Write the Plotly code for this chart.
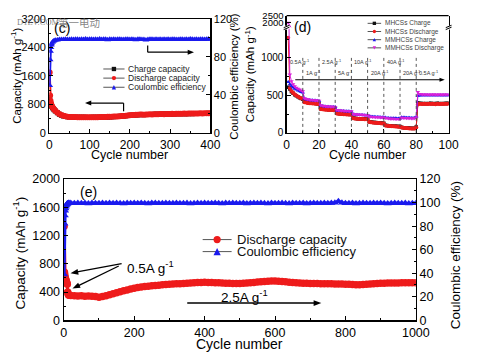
import math
import plotly.graph_objects as go

W, H = 480, 360
FONT = "Arial, 'Liberation Sans', Helvetica, sans-serif"
RED = "#ee1b1b"
BLUE = "#1a1aee"
MAG = "#d822d8"
BLK = "#111111"

# ---------------- panel (c) data ----------------
c_cycle_early = [1, 2, 3, 4, 5, 6, 8, 10, 12, 15, 20, 25, 30, 35, 40, 45]
c_cycle_late = list(range(50, 401, 5))
c_discharge_early = [1700, 1050, 900, 830, 790, 760, 720, 690, 660, 620, 570, 530, 500, 480, 465, 455]
c_discharge_late = [450, 448, 446, 444, 442, 441, 440, 442, 440, 438,
                    437, 440, 442, 440, 443, 445, 444, 447, 450, 452,
                    451, 455, 458, 460, 464, 468, 472, 478, 484, 490,
                    496, 500, 505, 508, 510, 514, 516, 512, 518, 520,
                    522, 519, 524, 526, 523, 528, 530, 527, 531, 534,
                    532, 536, 534, 538, 540, 537, 541, 543, 540, 544,
                    546, 543, 547, 545, 548, 550, 547, 551, 549, 552,
                    550]
c_charge_early = [1000, 880, 820, 790, 765, 740, 705, 680, 650, 615, 565, 527, 498, 478, 463, 453]
c_charge_late = [447, 446, 443, 442, 440, 439, 437, 440, 438, 436,
                 435, 437, 440, 438, 441, 442, 442, 445, 447, 450,
                 449, 452, 456, 458, 461, 465, 470, 475, 481, 487,
                 493, 498, 502, 506, 508, 511, 514, 510, 515, 518,
                 519, 517, 521, 524, 521, 525, 528, 525, 529, 531,
                 530, 533, 532, 535, 537, 535, 538, 541, 538, 541,
                 543, 541, 544, 543, 545, 548, 545, 548, 547, 549,
                 548]
c_ce_early = [50, 77, 86, 90, 92.5, 94, 95.5, 96.5, 97, 97.5, 98, 98.3, 98.5, 98.4, 98.6, 98.5]
c_ce_late = [98.5, 98.7, 98.4, 98.8, 98.6, 98.3, 98.7, 98.5, 98.9, 98.4,
             98.6, 98.8, 98.3, 98.6, 98.5, 98.9, 98.4, 98.7, 98.6, 98.2,
             98.7, 98.5, 98.8, 98.4, 98.6, 98.7, 98.3, 98.5, 98.8, 98.6,
             98.4, 98.7, 98.5, 98.2, 98.6, 98.8, 98.5, 98.3, 98.0, 98.4,
             98.6, 98.7, 98.4, 98.8, 98.5, 98.6, 98.3, 98.7, 98.5, 98.8,
             98.4, 98.6, 98.7, 98.5, 98.3, 98.8, 98.6, 98.4, 98.7, 98.5,
             98.9, 98.6, 98.4, 98.7, 98.5, 98.8, 98.6, 98.3, 98.7, 98.9,
             98.6]

# ---------------- panel (d) data ----------------
d_cycle = list(range(1, 101))
d_mhcs_charge = [610, 585, 550, 528, 510, 495, 482, 470, 460, 450,
                 415, 408, 404, 400, 398, 396, 394, 392, 390, 388,
                 322, 318, 316, 314, 312, 310, 309, 308, 306, 305,
                 262, 258, 256, 254, 252, 251, 250, 248, 247, 246,
                 198, 195, 192, 190, 189, 188, 186, 185, 184, 183,
                 150, 145, 142, 140, 138, 136, 134, 132, 130, 128,
                 102, 98, 96, 94, 92, 90, 89, 88, 86, 85,
                 74, 70, 68, 66, 64, 63, 62, 60, 62, 78,
                 398, 394, 391, 392, 390, 393, 389, 391, 394, 390,
                 392, 388, 394, 391, 389, 393, 390, 395, 392, 396]
d_mhcs_discharge = [1270, 600, 560, 535, 515, 500, 486, 474, 462, 452,
                    410, 404, 400, 397, 395, 393, 391, 389, 387, 386,
                    318, 315, 312, 310, 308, 307, 305, 304, 303, 302,
                    258, 255, 253, 251, 250, 248, 247, 246, 245, 244,
                    195, 192, 190, 188, 187, 185, 184, 183, 182, 181,
                    147, 143, 140, 137, 135, 133, 131, 129, 127, 125,
                    99, 96, 93, 91, 89, 88, 86, 85, 83, 82,
                    72, 68, 66, 64, 62, 60, 59, 58, 60, 75,
                    380, 390, 387, 385, 388, 384, 387, 389, 385, 388,
                    386, 383, 389, 387, 384, 388, 385, 390, 387, 391]
d_mmhcs_charge = [680, 650, 625, 605, 590, 578, 566, 556, 547, 538,
                  455, 448, 444, 440, 437, 435, 433, 431, 429, 427,
                  362, 358, 355, 352, 350, 348, 347, 346, 345, 344,
                  300, 297, 295, 293, 292, 290, 289, 288, 287, 286,
                  248, 245, 243, 242, 240, 239, 238, 237, 236, 236,
                  222, 218, 216, 214, 213, 212, 211, 210, 209, 208,
                  205, 200, 198, 197, 196, 195, 194, 193, 193, 192,
                  210, 206, 204, 203, 202, 201, 200, 199, 201, 212,
                  495, 500, 502, 503, 502, 504, 503, 502, 504, 503,
                  502, 504, 503, 502, 504, 503, 502, 504, 503, 502]
d_mmhcs_discharge = [2000, 780, 690, 650, 622, 604, 590, 578, 567, 557,
                     462, 454, 448, 444, 440, 438, 436, 434, 432, 430,
                     368, 362, 358, 355, 353, 351, 350, 349, 348, 347,
                     305, 301, 298, 296, 294, 293, 292, 291, 290, 289,
                     252, 248, 246, 244, 243, 242, 241, 240, 239, 238,
                     220, 216, 213, 212, 210, 209, 208, 207, 206, 205,
                     198, 194, 192, 190, 189, 188, 187, 186, 186, 185,
                     204, 200, 198, 196, 195, 194, 193, 192, 195, 205,
                     545, 520, 515, 513, 512, 511, 512, 510, 511, 512,
                     511, 512, 510, 511, 512, 510, 511, 512, 511, 510]
d_step_start = [0, 10, 20, 30, 40, 50, 60, 70, 80]
d_step_label = ["0.5A g<sup>-1</sup>", "1A g<sup>-1</sup>", "2.5A g<sup>-1</sup>", "5A g<sup>-1</sup>",
                "10A g<sup>-1</sup>", "20A g<sup>-1</sup>", "40A g<sup>-1</sup>", "20A g<sup>-1</sup>",
                "0.5A g<sup>-1</sup>"]

# ---------------- panel (e) data ----------------
e_cycle_early = list(range(1, 16))
e_cycle_late = list(range(20, 1001, 10))
e_discharge_early = [1330, 680, 640, 610, 590, 570, 555, 540, 525, 510, 400, 380, 365, 360, 355]
e_discharge_late = [352, 348, 345, 348, 342, 345, 340, 336, 328, 336,
                    348, 362, 376, 390, 404, 418, 430, 442, 455, 465,
                    472, 478, 484, 489, 494, 498, 502, 506, 510, 513,
                    516, 519, 522, 525, 528, 531, 534, 536, 538, 537,
                    535, 533, 531, 528, 526, 524, 523, 522, 523, 525,
                    528, 532, 537, 542, 547, 551, 554, 555, 556, 554,
                    551, 546, 540, 535, 531, 528, 526, 524, 523, 521,
                    520, 519, 518, 517, 516, 515, 514, 513, 512, 510,
                    507, 505, 504, 506, 510, 514, 518, 521, 524, 526,
                    527, 528, 529, 530, 531, 532, 532, 533, 533]
e_ce_early = [39, 82, 89, 93, 95, 96.5, 97.5, 98.2, 98.7, 99, 99.2, 99.4, 99.5, 99.6, 99.6]
e_ce_late = [99.6, 99.4, 99.7, 99.5, 99.6, 99.3, 99.7, 99.5, 99.4, 99.6,
             99.5, 99.7, 99.4, 99.6, 99.5, 99.3, 99.6, 99.5, 99.7, 99.4,
             99.6, 99.5, 99.3, 99.6, 99.7, 99.4, 99.5, 99.6, 99.4, 99.5,
             99.7, 99.5, 99.4, 99.6, 99.3, 99.5, 99.6, 99.4, 99.7, 99.5,
             99.4, 99.6, 99.5, 99.3, 99.6, 99.5, 99.7, 99.4, 99.5, 99.6,
             99.3, 99.5, 99.6, 99.4, 99.7, 99.5, 99.3, 99.6, 99.5, 99.4,
             99.6, 99.5, 99.3, 99.7, 99.4, 99.5, 99.6, 99.3, 99.5, 99.6,
             99.4, 99.5, 99.7, 99.4, 99.6, 99.8, 101.2, 99.9, 99.5, 99.4,
             99.6, 99.3, 99.5, 99.6, 99.4, 99.5, 99.7, 99.4, 99.6, 99.5,
             99.3, 99.5, 99.6, 99.4, 99.5, 99.6, 99.3, 99.5, 99.4]

c_cycle = c_cycle_early + c_cycle_late
c_discharge = c_discharge_early + c_discharge_late
c_charge = c_charge_early + c_charge_late
c_ce = c_ce_early + c_ce_late
e_cycle = e_cycle_early + e_cycle_late
e_discharge = e_discharge_early + e_discharge_late
e_ce = e_ce_early + e_ce_late
assert len(c_cycle) == len(c_discharge) == len(c_charge) == len(c_ce)
assert len(e_cycle) == len(e_discharge) == len(e_ce)
for s in (d_mhcs_charge, d_mhcs_discharge, d_mmhcs_charge, d_mmhcs_discharge):
    assert len(s) == len(d_cycle)


def pxx(x):
    return x / W


def pxy(y):
    return 1 - y / H


fig = go.Figure()


def sc(x, y, xa, ya, color, symbol, size, lw):
    fig.add_trace(go.Scatter(x=x, y=y, xaxis=xa, yaxis=ya, mode="lines+markers",
                             line=dict(color=color, width=lw),
                             marker=dict(color=color, symbol=symbol, size=size, line=dict(width=0)),
                             showlegend=False, hoverinfo="skip"))


# panel c
sc(c_cycle, c_charge, "x", "y", BLK, "square", 5, 1.5)
sc(c_cycle, c_discharge, "x", "y", RED, "circle", 6, 2)
sc(c_cycle, c_ce, "x", "y2", BLUE, "triangle-up", 6, 2)

# panel d (lower and upper segments of the broken axis)
for ya in ("y3", "y4"):
    sc(d_cycle, d_mhcs_charge, "x2", ya, BLK, "square", 3.5, 1)
    sc(d_cycle, d_mhcs_discharge, "x2", ya, RED, "circle", 4, 1)
    sc(d_cycle, d_mmhcs_charge, "x2", ya, BLUE, "triangle-up", 4, 1)
    sc(d_cycle, d_mmhcs_discharge, "x2", ya, MAG, "triangle-down", 4, 1)

# panel e
sc(e_cycle, e_discharge, "x3", "y5", RED, "circle", 7.5, 3)
sc(e_cycle, e_ce, "x3", "y6", BLUE, "triangle-up", 7, 3)


def axis(**kw):
    base = dict(showline=True, linecolor="black", linewidth=1.2, ticks="inside", ticklen=4,
                tickwidth=1, tickcolor="black", showgrid=False, zeroline=False,
                tickfont=dict(family=FONT, size=11, color="black"), fixedrange=True)
    base.update(kw)
    return base


def minor(d, ln=2):
    return dict(ticks="inside", ticklen=ln, dtick=d, tickcolor="black", showgrid=False)


lay = dict(
    xaxis=axis(domain=[pxx(48), pxx(215)], range=[0, 400], dtick=100, anchor="y", mirror=True,
               tickfont=dict(family=FONT, size=12), minor=minor(50)),
    yaxis=axis(domain=[pxy(131), pxy(12.5)], range=[0, 3200], dtick=800, anchor="x", minor=minor(400)),
    yaxis2=axis(overlaying="y", side="right", anchor="x", range=[0, 120], dtick=40, minor=minor(20)),
    xaxis2=axis(domain=[pxx(294), pxx(462)], range=[0, 100], dtick=20, anchor="y3",
                tickfont=dict(family=FONT, size=12), minor=minor(10)),
    yaxis3=axis(domain=[pxy(131), pxy(22.5)], range=[0, (131 - 22.5) / 78 * 1000], tickvals=[0, 500, 1000],
                anchor="x2", mirror=True, tickfont=dict(family=FONT, size=10),
                minor=dict(ticks="inside", ticklen=2, tickvals=[250, 750, 1250], tickcolor="black")),
    yaxis4=axis(domain=[pxy(21), pxy(9)], range=[1700, 2500], tickvals=[2000, 2500], anchor="x2",
                mirror=True, tickfont=dict(family=FONT, size=9.5)),
    xaxis3=axis(domain=[pxx(63), pxx(428)], range=[0, 1000], dtick=200, anchor="y5", mirror=True,
                tickfont=dict(family=FONT, size=12.5), minor=minor(100)),
    yaxis5=axis(domain=[pxy(326), pxy(179)], range=[0, 2000], dtick=400, anchor="x3",
                tickfont=dict(family=FONT, size=12.5), minor=minor(200)),
    yaxis6=axis(overlaying="y5", side="right", anchor="x3", range=[0, 120], dtick=20,
                tickfont=dict(family=FONT, size=12.5), minor=minor(10)),
)

shapes = []
ann = []


def text(x, y, s, size, xanchor="center", angle=0, color="black", family=FONT):
    ann.append(dict(x=pxx(x), y=pxy(y), xref="paper", yref="paper", text=s, showarrow=False,
                    xanchor=xanchor, yanchor="middle", textangle=angle,
                    font=dict(family=family, size=size, color=color)))


def line_px(x0, y0, x1, y1, color="black", width=1.0, dash=None):
    shapes.append(dict(type="line", xref="paper", yref="paper", x0=pxx(x0), y0=pxy(y0), x1=pxx(x1),
                       y1=pxy(y1), line=dict(color=color, width=width, dash=dash)))


def arrow_px(x0, y0, x1, y1, width=1.2, hl=6.5, hw=2.6):
    """Arrow from (x0,y0) to tip (x1,y1) in pixel coordinates."""
    dx, dy = x1 - x0, y1 - y0
    L = math.hypot(dx, dy)
    ux, uy = dx / L, dy / L
    bx, by = x1 - ux * hl, y1 - uy * hl
    line_px(x0, y0, bx + ux * 1, by + uy * 1, width=width)
    px_, py_ = -uy, ux
    p1 = (bx + px_ * hw, by + py_ * hw)
    p2 = (bx - px_ * hw, by - py_ * hw)
    path = (f"M {pxx(x1)},{pxy(y1)} L {pxx(p1[0])},{pxy(p1[1])} "
            f"L {pxx(p2[0])},{pxy(p2[1])} Z")
    shapes.append(dict(type="path", xref="paper", yref="paper", path=path,
                       fillcolor="black", line=dict(width=0)))


def glyph(sym, cx, cy, s, color):
    x0, x1 = pxx(cx - s / 2), pxx(cx + s / 2)
    y0, y1 = pxy(cy + s / 2), pxy(cy - s / 2)
    d = dict(xref="paper", yref="paper", fillcolor=color, line=dict(width=0))
    if sym == "square":
        d.update(type="rect", x0=x0, x1=x1, y0=y0, y1=y1)
    elif sym == "circle":
        d.update(type="circle", x0=x0, x1=x1, y0=y0, y1=y1)
    elif sym == "triangle-up":
        d.update(type="path", path=f"M {x0},{y0} L {x1},{y0} L {pxx(cx)},{y1} Z")
    else:
        d.update(type="path", path=f"M {x0},{y1} L {x1},{y1} L {pxx(cx)},{y0} Z")
    shapes.append(d)


def legend(entries, x0, x1, xt, ys, gsize, fsize, tcolor="#222", lcolor="#555"):
    for (label, color, sym), y in zip(entries, ys):
        line_px(x0, y, x1, y, color=lcolor, width=1)
        glyph(sym, (x0 + x1) / 2, y, gsize, color)
        text(xt, y, label, fsize, xanchor="left", color=tcolor)


# legends
legend([("Charge capacity", BLK, "square"), ("Discharge capacity", RED, "circle"),
        ("Coulombic efficiency", BLUE, "triangle-up")],
       104, 126, 128, [64.5, 74, 83.5], 4.5, 8.5)
legend([("MHCSs Charge", BLK, "square"), ("MHCSs Discharge", RED, "circle"),
        ("MMHCSs Charge", BLUE, "triangle-up"), ("MMHCSs Discharge", MAG, "triangle-down")],
       378, 392, 394, [17, 25.5, 34, 42.5], 3.5, 6.5, tcolor="#444")
legend([("Discharge capacity", RED, "circle"), ("Coulombic efficiency", BLUE, "triangle-up")],
       207, 237, 240, [242, 254.5], 7.5, 13, tcolor="#111")

# axis titles
text(131.5, 153.5, "Cycle number", 12.5)
text(14, 72, "Capacity (mAh g<sup>-1</sup>)", 11.5, angle=-90)
text(240, 72, "Coulombic efficiency (%)", 11.5, angle=-90)
text(378, 153.5, "Cycle number", 12.5)
text(256, 70, "Capacity (mAh g<sup>-1</sup>)", 11.5, angle=-90)
text(245, 350.5, "Cycle number", 14)
text(17, 256, "Capacity (mAh g<sup>-1</sup>)", 13.5, angle=-90)
text(470, 258, "Coulombic efficiency (%)", 13.5, angle=-90)

# panel labels
text(61, 22, "(c)", 14)
text(311, 21, "(d)", 14)
text(89, 193, "(e)", 14)

# watermark
text(12, 16, "D1EV.COM", 8.5, xanchor="left", color="rgba(110,110,110,0.85)",
     family="'Liberation Serif', serif")
text(55, 16, "第一电动", 10.5, xanchor="left", color="rgba(110,110,110,0.85)",
     family="'Noto Sans CJK SC', sans-serif")

# panel d decorations: top frame, axis breaks, step separators, rate labels, arrow
line_px(294, 9, 462, 9, width=1.2)
for bx in (294, 462):
    shapes.append(dict(type="rect", xref="paper", yref="paper", x0=pxx(bx - 2), x1=pxx(bx + 2),
                       y0=pxy(23.5), y1=pxy(19.5), fillcolor="white", line=dict(width=0)))
    line_px(bx - 3, 23.5, bx + 3, 21, width=1)
    line_px(bx - 3, 21.5, bx + 3, 19, width=1)
for sx in d_step_start[1:]:
    shapes.append(dict(type="line", xref="x2", yref="y3", x0=sx, x1=sx, y0=0, y1=1010,
                       line=dict(color="#444", width=0.9, dash="dot")))
for i, (sx, lab) in enumerate(zip(d_step_start, d_step_label)):
    ly = 950 if (i % 2 == 0 and i < 8) else 795
    ann.append(dict(x=sx + 0.6, y=ly, xref="x2", yref="y3", text=lab, showarrow=False,
                    xanchor="left", yanchor="middle", font=dict(family=FONT, size=5.5, color="#333")))
arrow_px(303, 75.7, 458, 75.7, width=1.2, hl=5.5, hw=2.2)

# panel c arrows
arrow_px(125, 100, 85, 100)
line_px(125, 100, 125, 108.5, width=1.2)
line_px(150, 40, 150, 47, width=1.2)
arrow_px(150, 47, 198, 47)

# panel e annotations
text(126, 270, "0.5A g<sup>-1</sup>", 13.5, xanchor="left")
arrow_px(123, 267, 70, 277, width=1.3, hl=8, hw=3)
arrow_px(120, 269.5, 72, 293, width=1.3, hl=8, hw=3)
text(250, 301, "2.5A g<sup>-1</sup>", 13.5)
arrow_px(191, 308, 330, 308, width=1.3, hl=8, hw=3)

fig.update_layout(width=W, height=H, autosize=False, margin=dict(l=0, r=0, t=0, b=0),
                  paper_bgcolor="white", plot_bgcolor="white", showlegend=False,
                  font=dict(family=FONT, color="black"), shapes=shapes, annotations=ann, **lay)

fig.write_html("out.html", config={"displayModeBar": False, "staticPlot": True},
               post_script="document.body.style.margin='0px';document.body.style.padding='0px';")
